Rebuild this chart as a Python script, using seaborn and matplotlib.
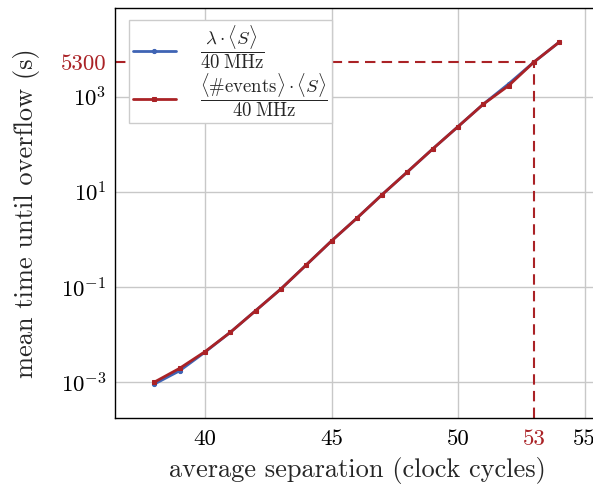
import numpy as np
import pandas as pd
import matplotlib
matplotlib.use("Agg")
import matplotlib.pyplot as plt
import seaborn as sns

# Data
sep_blue = [38, 39, 40, 41, 42, 43, 44, 45, 46, 47, 48, 49, 50, 51, 52, 53, 54]
time_blue = [9.2e-4, 1.75e-3, 4.3e-3, 0.0112, 0.0319, 0.0912, 0.291, 0.93, 2.79,
             8.73, 26.2, 79.6, 234, 693, 1850, 5300, 13900]
sep_red = [38, 39, 40, 41, 42, 43, 44, 45, 46, 47, 48, 49, 50, 51, 52, 53, 54]
time_red = [1.01e-3, 1.97e-3, 4.4e-3, 0.0112, 0.0319, 0.0912, 0.291, 0.93, 2.79,
            8.73, 26.2, 79.6, 234, 693, 1695, 5300, 13900]
label_blue = r'$\dfrac{\lambda\cdot\langle S\rangle}{40\;\mathrm{MHz}}$'
label_red = r'$\dfrac{\langle\#\mathrm{events}\rangle\cdot\langle S\rangle}{40\;\mathrm{MHz}}$'
mark_x = 53
mark_y = 5300
xticks_major = [40, 45, 50, 55]
yticks_major = [1e-3, 1e-1, 1e1, 1e3]
ytick_labels = [r'$10^{-3}$', r'$10^{-1}$', r'$10^{1}$', r'$10^{3}$']

sns.set_theme(style="white")
plt.rcParams['font.family'] = ['serif']
plt.rcParams['font.serif'] = ['cmr10', 'DejaVu Serif']
plt.rcParams['mathtext.fontset'] = 'cm'
plt.rcParams['axes.formatter.use_mathtext'] = True

BLUE = '#3f64b4'
RED = '#aa2226'
W, H = 593, 488
fig = plt.figure(figsize=(W / 100, H / 100), dpi=100)
ax_left, ax_bottom, ax_top = 114.7, 418, 8
xmin, xmax = 36.43, 55.6
pxu = 25.3
ax_right = ax_left + (xmax - xmin) * pxu
ax = fig.add_axes([ax_left / W, (H - ax_bottom) / H, (ax_right - ax_left) / W, (ax_bottom - ax_top) / H])

df_b = pd.DataFrame({'x': sep_blue, 'y': time_blue})
df_r = pd.DataFrame({'x': sep_red, 'y': time_red})
sns.lineplot(data=df_b, x='x', y='y', ax=ax, color=BLUE, lw=2.0, marker='o', ms=3,
             mec=BLUE, label=label_blue, zorder=3)
sns.lineplot(data=df_r, x='x', y='y', ax=ax, color=RED, lw=2.0, marker='s', ms=3.5,
             mec=RED, label=label_red, zorder=4)

ax.set_yscale('log')
ax.set_xlim(xmin, xmax)
ax.set_ylim(10 ** -3.75, 10 ** 4.86)

# dashed marker lines
ax.plot([xmin, mark_x], [mark_y, mark_y], color=RED, lw=1.5, ls=(0, (5, 3)), zorder=2)
ax.plot([mark_x, mark_x], [10 ** -3.75, mark_y], color=RED, lw=1.5, ls=(0, (5, 3)), zorder=2)

# grid
for xv in xticks_major:
    ax.axvline(xv, color='#c8c8c8', lw=1.0, zorder=0)
for yv in yticks_major:
    ax.axhline(yv, color='#c8c8c8', lw=1.0, zorder=0)

ax.set_xticks(xticks_major + [mark_x])
ax.set_xticklabels([str(v) for v in xticks_major] + [str(mark_x)])
ax.set_xticks(np.arange(37, 56, 1), minor=True)
ax.set_yticks(yticks_major + [mark_y])
ax.set_yticklabels(ytick_labels + [str(mark_y)])
ax.yaxis.set_minor_locator(matplotlib.ticker.NullLocator())
ax.tick_params(axis='both', which='both', direction='in', colors='#555555', labelcolor='black',
               labelsize=16.5)
ax.tick_params(axis='x', which='major', length=8, width=0.8, pad=8)
ax.tick_params(axis='x', which='minor', length=5, width=0.8)
ax.tick_params(axis='y', which='major', length=8, width=0.8, pad=6)
for lab in ax.get_xticklabels():
    if lab.get_text() == str(mark_x):
        lab.set_color(RED)
for lab in ax.get_yticklabels():
    if lab.get_text() == str(mark_y):
        lab.set_color(RED)

for s in ax.spines.values():
    s.set_color('black')
    s.set_linewidth(1.0)
ax.spines['right'].set_visible(False)

ax.set_xlabel('average separation (clock cycles)', fontsize=19, labelpad=6)
ax.set_ylabel('mean time until overflow (s)', fontsize=19, labelpad=15)

leg = ax.legend(loc='upper left', bbox_to_anchor=(0.0295, 0.971), borderaxespad=0,
                fontsize=13.5, frameon=True,
                fancybox=False, edgecolor='#cccccc', framealpha=1, borderpad=0.2,
                handlelength=2.3, labelspacing=0.0, handletextpad=1.3)
leg.get_frame().set_linewidth(1.0)

fig.savefig('out.png', dpi=100)
